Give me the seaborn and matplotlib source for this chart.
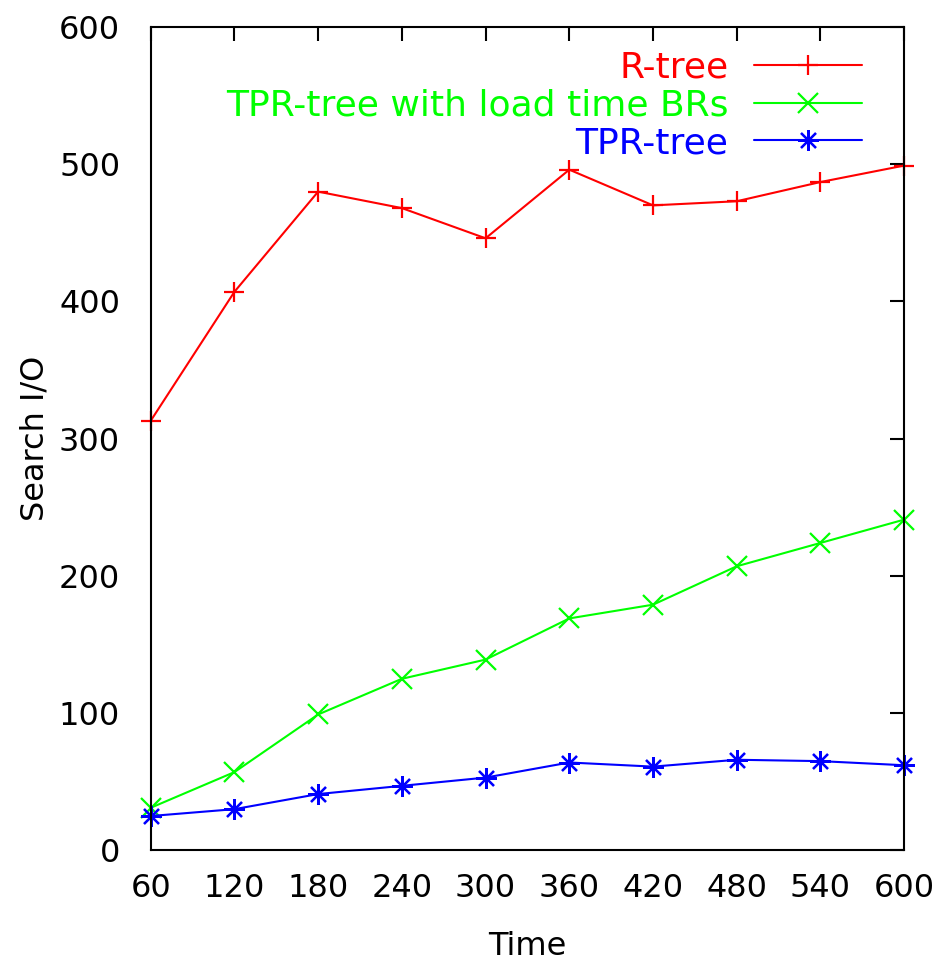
import numpy as np
import pandas as pd
import seaborn as sns
from matplotlib import pyplot as plt

# Werte
zeit = [60, 120, 180, 240, 300, 360, 420, 480, 540, 600]
r_tree = [313, 407, 480, 468, 446, 496, 470, 473, 487, 499]
tpr_load = [31, 57, 99, 125, 139, 169, 179, 207, 224, 241]
tpr_tree = [25, 30, 41, 47, 53, 64, 61, 66, 65, 62]

namen = ["R-tree", "TPR-tree with load time BRs", "TPR-tree"]
farben = {"R-tree": "#ff0000", "TPR-tree with load time BRs": "#00ff00", "TPR-tree": "#0000ff"}
marker = {"R-tree": "+", "TPR-tree with load time BRs": "x", "TPR-tree": (8, 2, 0)}

df = pd.DataFrame({
    "Time": zeit * 3,
    "Search I/O": r_tree + tpr_load + tpr_tree,
    "Serie": [namen[0]] * 10 + [namen[1]] * 10 + [namen[2]] * 10,
})

sns.set_style("white")
plt.rcParams['font.family'] = ['DejaVu Sans']
plt.rcParams['axes.labelcolor'] = 'black'
plt.rcParams['text.color'] = 'black'

fig = plt.figure(figsize=(9.36, 9.63), dpi=100)
ax = fig.add_axes([0.161, 0.117, 0.805, 0.855])

sns.lineplot(data=df, x="Time", y="Search I/O", hue="Serie", style="Serie",
             hue_order=namen, style_order=namen, palette=farben, markers=marker,
             dashes=False, markersize=15, markeredgewidth=1.6, linewidth=1.5,
             ax=ax)

# Markerkanten in Linienfarbe, nicht weiss
for l in ax.get_lines():
    l.set_markeredgecolor(l.get_color())
    l.set_clip_on(False)

ax.set_xlim(60, 600)
ax.set_ylim(0, 600)
ax.set_xticks(zeit)
ax.set_yticks(range(0, 601, 100))
ax.tick_params(direction="in", length=10, width=1.5, labelsize=23,
               top=True, right=True, colors="black")
ax.tick_params(axis="x", pad=16)
ax.tick_params(axis="y", pad=22)
for s in ax.spines.values():
    s.set_color("black")
    s.set_linewidth(1.5)
ax.set_xlabel("Time", fontsize=23, labelpad=20)
ax.set_ylabel("Search I/O", fontsize=23, labelpad=6)

leg = ax.legend(loc="upper right", bbox_to_anchor=(0.944, 0.971), frameon=False,
                markerfirst=False, fontsize=26, labelcolor="linecolor",
                handlelength=3.0, handletextpad=0.7, borderaxespad=0.0,
                borderpad=0.0, labelspacing=0.1)
for h in leg.legend_handles:
    h.set_markeredgecolor(h.get_color())

fig.savefig("out.png", dpi=100)
